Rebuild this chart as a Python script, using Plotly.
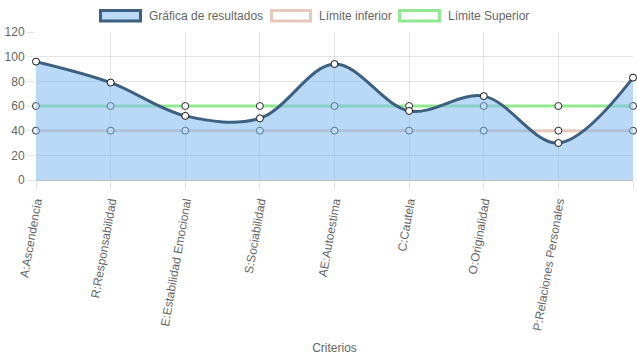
import plotly.graph_objects as go

categorias = ["A:Ascendencia", "R:Responsabilidad", "E:Estabilidad Emocional", "S:Sociabilidad",
              "AE:Autoestima", "C:Cautela", "O:Originalidad", "P:Relaciones Personales", "V:Vigor"]
resultados = [96, 79, 52, 50, 94, 56, 68, 30, 83]
limite_inferior = [40, 40, 40, 40, 40, 40, 40, 40, 40]
limite_superior = [60, 60, 60, 60, 60, 60, 60, 60, 60]
y_ticks = [0, 20, 40, 60, 80, 100, 120]

idx = list(range(len(categorias)))
GRAY = "#666666"
FONT = "Liberation Sans, Arial, Helvetica, sans-serif"

fig = go.Figure()
fig.add_trace(go.Scatter(x=idx, y=limite_inferior, mode="lines+markers", name="Límite inferior",
                         line=dict(color="rgb(230,200,188)", width=3, shape="spline", smoothing=1.0),
                         marker=dict(size=7, color="white", line=dict(color="rgb(40,40,40)", width=1)),
                         cliponaxis=False, showlegend=False))
fig.add_trace(go.Scatter(x=idx, y=limite_superior, mode="lines+markers", name="Límite Superior",
                         line=dict(color="rgb(144,232,144)", width=3, shape="spline", smoothing=1.0),
                         marker=dict(size=7, color="white", line=dict(color="rgb(40,40,40)", width=1)),
                         cliponaxis=False, showlegend=False))
fig.add_trace(go.Scatter(x=idx, y=resultados, mode="lines+markers", name="Gráfica de resultados",
                         fill="tozeroy", fillcolor="rgba(130,185,240,0.55)",
                         line=dict(color="rgb(62,96,128)", width=3, shape="spline", smoothing=1.0),
                         marker=dict(size=7, color="white", line=dict(color="rgb(20,20,20)", width=1)),
                         cliponaxis=False, showlegend=False))

L, R, T, B = 36, 4, 32, 179
W, H = 637, 359
pw, ph = W - L - R, H - T - B

def px(x):
    return (x - L) / pw

def py(y):
    return (H - B - y) / ph

legend_items = [
    ("Gráfica de resultados", 99, 142, "rgba(130,185,240,0.55)", "rgb(62,96,128)", 147),
    ("Límite inferior", 270, 312, "rgba(255,255,255,1)", "rgb(230,200,188)", 317),
    ("Límite Superior", 398, 441, "rgba(255,255,255,1)", "rgb(144,232,144)", 446),
]
shapes = []
annotations = []
for name, x0, x1, fc, lc, tx in legend_items:
    shapes.append(dict(type="rect", xref="paper", yref="paper", x0=px(x0 + 1.5), x1=px(x1 - 1.5),
                       y0=py(21), y1=py(10.5), fillcolor=fc, line=dict(color=lc, width=3), layer="above"))
    annotations.append(dict(xref="paper", yref="paper", x=px(tx), y=py(15.5), text=name, showarrow=False,
                            xanchor="left", yanchor="middle", font=dict(size=12, color=GRAY, family=FONT)))

fig.update_layout(
    width=W, height=H,
    margin=dict(l=L, r=R, t=T, b=B),
    paper_bgcolor="white", plot_bgcolor="white",
    font=dict(family=FONT, size=12, color=GRAY),
    showlegend=False,
    shapes=shapes, annotations=annotations,
    xaxis=dict(range=[0, len(categorias) - 1], tickvals=idx, ticktext=categorias, tickangle=-80,
               showgrid=True, gridcolor="rgba(0,0,0,0.1)", gridwidth=1,
               ticks="outside", ticklen=9, tickcolor="rgba(0,0,0,0.1)",
               showline=False, zeroline=False,
               tickfont=dict(size=12, color=GRAY, family=FONT),
               title=dict(text="Criterios", font=dict(size=12, color=GRAY, family=FONT), standoff=12),
               automargin=False),
    yaxis=dict(range=[0, 120], tickvals=y_ticks, showgrid=True, gridcolor="rgba(0,0,0,0.1)", gridwidth=1,
               ticks="outside", ticklen=8, tickcolor="rgba(0,0,0,0.1)",
               zeroline=True, zerolinecolor="rgba(0,0,0,0.25)", zerolinewidth=1,
               showline=False, tickfont=dict(size=12, color=GRAY, family=FONT), automargin=False),
)

fig.write_html("out.html", config={"displayModeBar": False},
               post_script="document.body.style.margin='0px';")
